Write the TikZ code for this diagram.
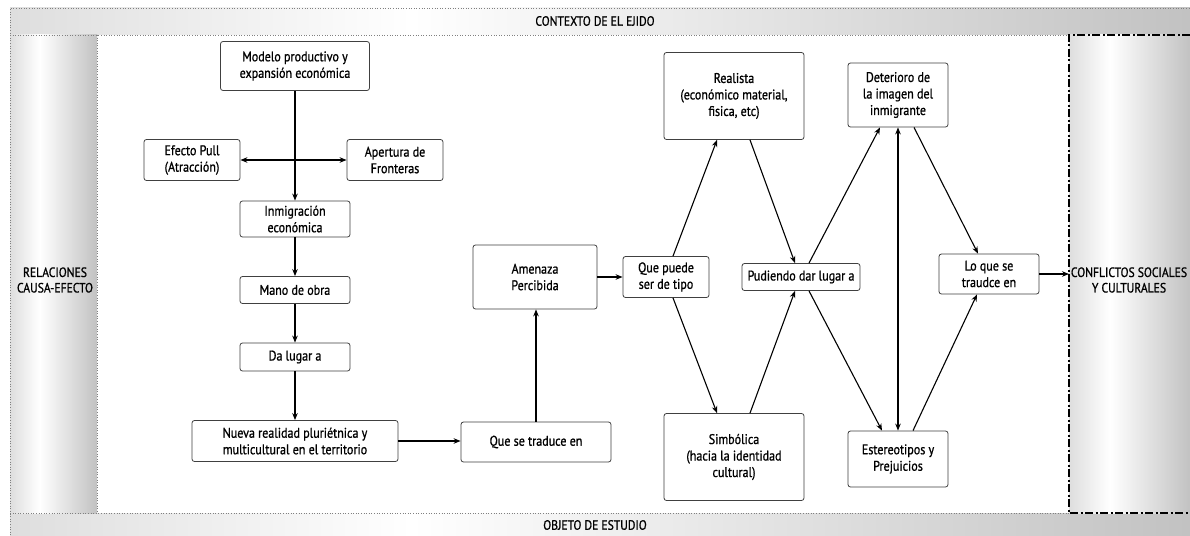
\documentclass[tikz,border=0pt]{standalone}
\usepackage{fontspec}
\setmainfont{PT Sans}[FakeStretch=0.86,FakeBold=0.9]
\usetikzlibrary{arrows.meta,calc}
\definecolor{bandL}{gray}{0.87}
\definecolor{bandR}{gray}{0.76}
\pgfdeclarehorizontalshading{bandshade}{100bp}{color(0bp)=(bandL); color(25bp)=(bandL); color(42bp)=(white); color(75bp)=(bandR); color(100bp)=(bandR)}
\tikzset{
  box/.style={draw=black!75, line width=0.8pt, rounded corners=2.5pt, fill=white, align=center, inner sep=2pt, font=\fontsize{14}{16.5}\selectfont},
  lbl/.style={align=center, inner sep=0pt, font=\fontsize{13.5}{15.5}\selectfont},
  arr/.style={line width=1.1pt, -{Stealth[length=7pt,width=5.5pt]}},
  arrb/.style={arr, line width=1.8pt},
  dotb/.style={dotted, draw=gray, line width=0.6pt},
  dashdotb/.style={line width=2pt, dash pattern=on 8pt off 2.5pt on 2pt off 2.5pt}
}
\begin{document}
\begin{tikzpicture}[x=1pt,y=-1pt]
\useasboundingbox (0,0) rectangle (1190,535);
\fill[white] (0,0) rectangle (1190,535);
% bands
\shade[shading=bandshade] (10,8) rectangle (1190,35);
\shade[shading=bandshade] (10,513) rectangle (1190,535);
\shade[shading=bandshade] (10,35) rectangle (97,513);
\shade[shading=bandshade] (1069,35) rectangle (1190,513);
\draw[dotb] (10,535) -- (10,8) -- (1190,8);
\draw[dotb] (10,35) -- (1069,35);
\draw[dotb] (97,35) -- (97,513);
\draw[dotb] (10,513) -- (1069,513);
\draw[dashdotb] (1190,35) -- (1069,35) -- (1069,513) -- (1190,513);
% band labels
\node[lbl] (ctx) at (595,21) {CONTEXTO DE EL EJIDO};
\node[lbl] (obj) at (595,525) {OBJETO DE ESTUDIO};
\node[lbl] (rel) at (55,280) {RELACIONES\\CAUSA-EFECTO};
\node[lbl] (conf) at (1129,280) {CONFLICTOS SOCIALES\\Y CULTURALES};
\coordinate (rb) at (1069,274);
% nodes
\node[box, minimum width=149pt, minimum height=49pt] (modelo) at (295,66) {Modelo productivo y\\expansión económica};
\node[box, minimum width=96pt, minimum height=41pt] (efecto) at (192,160) {Efecto Pull\\(Atracción)};
\node[box, minimum width=96pt, minimum height=41pt] (apert) at (395,160) {Apertura de\\Fronteras};
\node[box, minimum width=110pt, minimum height=36pt] (inmig) at (295,219) {Inmigración\\económica};
\node[box, minimum width=110pt, minimum height=27pt] (mano) at (295,290) {Mano de obra};
\node[box, minimum width=110pt, minimum height=28pt] (dalug) at (295,357) {Da lugar a};
\node[box, minimum width=206pt, minimum height=41pt] (nueva) at (295,441) {Nueva realidad pluriétnica y\\multicultural en el territorio};
\node[box, minimum width=150pt, minimum height=40pt] (qtrad) at (536,442) {Que se traduce en};
\node[box, minimum width=124pt, minimum height=64pt] (amen) at (535,277) {Amenaza\\Percibida};
\node[box, minimum width=86pt, minimum height=41pt] (qp) at (666,277) {Que puede\\ser de tipo};
\node[box, minimum width=140pt, minimum height=87pt] (real) at (734,96) {Realista\\(económico material,\\fisica, etc)};
\node[box, minimum width=140pt, minimum height=87pt] (simb) at (734,457) {Simbólica\\(hacia la identidad\\cultural)};
\node[box, minimum width=118pt, minimum height=27pt] (pud) at (801,277) {Pudiendo dar lugar a};
\node[box, minimum width=100pt, minimum height=64pt] (det) at (898,95) {Deterioro de\\la imagen del\\inmigrante};
\node[box, minimum width=100pt, minimum height=56pt] (est) at (898,459) {Estereotipos y\\Prejuicios};
\node[box, minimum width=100pt, minimum height=40pt] (lo) at (989,274) {Lo que se\\traudce en};
% connectors
\draw[arr] (modelo.south) -- (inmig.north);
\draw[arrb, {Stealth[length=7pt,width=5.5pt]}-{Stealth[length=7pt,width=5.5pt]}] (efecto.east) -- (apert.west);
\draw[arr] (inmig.south) -- (mano.north);
\draw[arr] (mano.south) -- (dalug.north);
\draw[arr] (dalug.south) -- (nueva.north);
\draw[arrb] (nueva.east) -- (qtrad.west |- nueva.east);
\draw[arr] (qtrad.north) -- (qtrad.north |- amen.south);
\draw[arrb] (amen.east) -- (qp.west);
\draw[arr] ([xshift=7pt]qp.north) -- ([xshift=-17pt]real.south);
\draw[arr] ([xshift=7pt]qp.south) -- ([xshift=-17pt]simb.north);
\draw[arr] ([xshift=16pt]real.south) -- ([xshift=-6pt]pud.north);
\draw[arr] ([xshift=16pt]simb.north) -- ([xshift=-6pt]pud.south);
\draw[arr] ([xshift=8pt]pud.north) -- ([xshift=-18pt]det.south);
\draw[arr] ([xshift=8pt]pud.south) -- ([xshift=-16pt]est.north);
\draw[arr, {Stealth[length=7pt,width=5.5pt]}-{Stealth[length=7pt,width=5.5pt]}] (det.south) -- (est.north);
\draw[arr] ([xshift=16pt]det.south) -- ([xshift=-11pt]lo.north);
\draw[arr] ([xshift=15pt]est.north) -- ([xshift=-12pt]lo.south);
\draw[arrb] (lo.east) -- (rb);
\end{tikzpicture}
\end{document}
